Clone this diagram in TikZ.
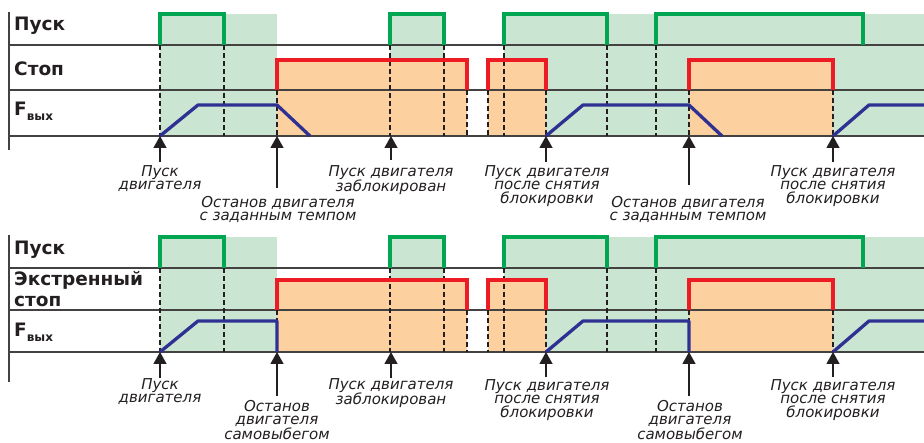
\documentclass[tikz,border=0pt]{standalone}
\usepackage{fontspec}
\setmainfont{DejaVu Sans}
\usetikzlibrary{arrows.meta}
\definecolor{gsig}{RGB}{0,166,81}
\definecolor{gfill}{RGB}{202,230,210}
\definecolor{rsig}{RGB}{237,28,36}
\definecolor{ofill}{RGB}{253,208,160}
\definecolor{bsig}{RGB}{46,49,146}
\definecolor{ink}{RGB}{35,31,32}
\begin{document}
\begin{tikzpicture}[x=1pt,y=-1pt,
  axisline/.style={line width=1.3pt,draw=ink!85},
  dl/.style={line width=1.2pt,draw=ink,dash pattern=on 5pt off 3pt},
  gline/.style={line width=3.6pt,draw=gsig,line join=miter},
  rline/.style={line width=3.6pt,draw=rsig,line join=miter},
  bline/.style={line width=3.3pt,draw=bsig,line join=round},
  arr/.style={line width=1.3pt,draw=ink,-{Triangle[width=13pt,length=12pt]}},
  lab/.style={font=\fontsize{15}{13.6}\selectfont\itshape,text=ink,align=center,inner sep=0pt,anchor=north},
  rowlab/.style={font=\fontsize{18.5}{21.5}\selectfont\bfseries,text=ink,inner sep=0pt,anchor=base west}]
\useasboundingbox (0,0) rectangle (924,443);
\begin{scope}
\clip (0,0) rectangle (924,443);
% ---------- top panel fills
\fill[gfill] (160,14) rectangle (277,136);
\fill[gfill] (390,14) rectangle (444,136);
\fill[gfill] (504,14) rectangle (930,136);
\fill[ofill] (277,60) rectangle (467,136);
\fill[ofill] (488,60) rectangle (546,136);
\fill[ofill] (689,60) rectangle (833,136);
% ---------- bottom panel fills
\fill[gfill] (160,237) rectangle (277,352);
\fill[gfill] (390,237) rectangle (444,352);
\fill[gfill] (504,237) rectangle (930,352);
\fill[ofill] (277,280) rectangle (467,352);
\fill[ofill] (488,280) rectangle (546,352);
\fill[ofill] (689,280) rectangle (833,352);
% ---------- axes
\draw[axisline] (9,12) -- (9,150);
\draw[axisline] (9,45) -- (930,45);
\draw[axisline] (9,90) -- (930,90);
\draw[axisline] (9,136) -- (930,136);
\draw[axisline] (9,235) -- (9,382);
\draw[axisline] (9,268) -- (930,268);
\draw[axisline] (9,310) -- (930,310);
\draw[axisline] (9,352) -- (930,352);
% ---------- dashed guides
\foreach \x in {160,224,390,444,504,607,656} {\draw[dl] (\x,45) -- (\x,136); \draw[dl] (\x,268) -- (\x,352);}
\foreach \x in {277,467,488,546,689,833} {\draw[dl] (\x,90) -- (\x,136); \draw[dl] (\x,310) -- (\x,352);}
% ---------- top signals
\draw[gline] (160,45) -- (160,14) -- (224,14) -- (224,45);
\draw[gline] (390,45) -- (390,14) -- (444,14) -- (444,45);
\draw[gline] (504,45) -- (504,14) -- (607,14) -- (607,45);
\draw[gline] (656,45) -- (656,14) -- (863,14) -- (863,45);
\draw[rline] (277,90) -- (277,60) -- (467,60) -- (467,90);
\draw[rline] (488,90) -- (488,60) -- (546,60) -- (546,90);
\draw[rline] (689,90) -- (689,60) -- (833,60) -- (833,90);
\draw[bline] (160,136) -- (198,105) -- (277,105) -- (310,136);
\draw[bline] (546,136) -- (583,105) -- (689,105) -- (722,136);
\draw[bline] (833,136) -- (869,105) -- (930,105);
% ---------- bottom signals
\draw[gline] (160,268) -- (160,237) -- (224,237) -- (224,268);
\draw[gline] (390,268) -- (390,237) -- (444,237) -- (444,268);
\draw[gline] (504,268) -- (504,237) -- (607,237) -- (607,268);
\draw[gline] (656,268) -- (656,237) -- (863,237) -- (863,268);
\draw[rline] (277,310) -- (277,280) -- (467,280) -- (467,310);
\draw[rline] (488,310) -- (488,280) -- (546,280) -- (546,310);
\draw[rline] (689,310) -- (689,280) -- (833,280) -- (833,310);
\draw[bline] (160,352) -- (198,321) -- (277,321) -- (277,352);
\draw[bline] (546,352) -- (583,321) -- (689,321) -- (689,352);
\draw[bline] (833,352) -- (869,321) -- (930,321);
\end{scope}
% ---------- row labels
\node[rowlab] (pusk1) at (14,31) {Пуск};
\node[rowlab] (stop1) at (14,76) {Стоп};
\node[rowlab] (fout1) at (14,116) {F\raisebox{-5pt}{\fontsize{12}{12}\selectfont вых}};
\node[rowlab] (pusk2) at (14,255) {Пуск};
\node[rowlab,align=left,anchor=north west] (stop2) at (14,271) {Экстренный\\стоп};
\node[rowlab] (fout2) at (14,337) {F\raisebox{-5pt}{\fontsize{12}{12}\selectfont вых}};
% ---------- top event labels
\coordinate (ta1) at (160,136); \coordinate (ta2) at (277,136); \coordinate (ta3) at (391,136);
\coordinate (ta4) at (546,136); \coordinate (ta5) at (689,136); \coordinate (ta6) at (833,136);
\node[lab] (la1) at (160,165) {Пуск\\двигателя};
\node[lab] (la2) at (278,196) {Останов двигателя\\с заданным темпом};
\node[lab] (la3) at (391,165) {Пуск двигателя\\заблокирован};
\node[lab] (la4) at (547,165) {Пуск двигателя\\после снятия\\блокировки};
\node[lab] (la5) at (688,196) {Останов двигателя\\с заданным темпом};
\node[lab] (la6) at (833,165) {Пуск двигателя\\после снятия\\блокировки};
\draw[arr] ([yshift=3pt]la1.north) -- (ta1);
\draw[arr] ([xshift=-1pt,yshift=8pt]la2.north) -- (ta2);
\draw[arr] ([yshift=5pt]la3.north) -- (ta3);
\draw[arr] ([xshift=-1pt,yshift=3pt]la4.north) -- (ta4);
\draw[arr] ([xshift=1pt,yshift=11pt]la5.north) -- (ta5);
\draw[arr] ([yshift=3pt]la6.north) -- (ta6);
% ---------- bottom event labels
\coordinate (tb1) at (160,352); \coordinate (tb2) at (277,352); \coordinate (tb3) at (391,352);
\coordinate (tb4) at (546,352); \coordinate (tb5) at (689,352); \coordinate (tb6) at (833,352);
\node[lab] (lb1) at (160,378) {Пуск\\двигателя};
\node[lab] (lb2) at (277,400) {Останов\\двигателя\\самовыбегом};
\node[lab] (lb3) at (391,378) {Пуск двигателя\\заблокирован};
\node[lab] (lb4) at (547,379) {Пуск двигателя\\после снятия\\блокировки};
\node[lab] (lb5) at (690,400) {Останов\\двигателя\\самовыбегом};
\node[lab] (lb6) at (833,379) {Пуск двигателя\\после снятия\\блокировки};
\draw[arr] ([yshift=0pt]lb1.north) -- (tb1);
\draw[arr] ([yshift=4pt]lb2.north) -- (tb2);
\draw[arr] ([yshift=0pt]lb3.north) -- (tb3);
\draw[arr] ([xshift=-1pt,yshift=2pt]lb4.north) -- (tb4);
\draw[arr] ([xshift=-1pt,yshift=4pt]lb5.north) -- (tb5);
\draw[arr] ([yshift=2pt]lb6.north) -- (tb6);
\end{tikzpicture}
\end{document}
